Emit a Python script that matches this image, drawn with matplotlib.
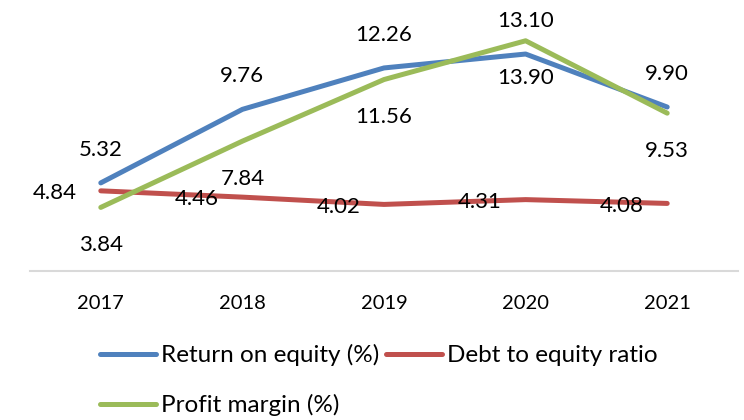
import numpy as np
import matplotlib
matplotlib.use("Agg")
import matplotlib.pyplot as plt

plt.rcParams['font.family'] = ['Lato', 'DejaVu Sans']

years = ['2017', '2018', '2019', '2020', '2021']
roe = [5.32, 9.76, 12.26, 13.10, 9.90]
debt_equity = [4.84, 4.46, 4.02, 4.31, 4.08]
profit_margin = [3.84, 7.84, 11.56, 13.90, 9.53]

blue = '#4f81bd'
red = '#c0504d'
green = '#9bbb59'

fig = plt.figure(figsize=(7.44, 4.2), dpi=100)
ax = fig.add_axes([30/744, 1-271/420, 708/744, 265/420])

x = np.arange(len(years))
l1, = ax.plot(x, roe, color=blue, lw=3.6, solid_capstyle='round', label='Return on equity (%)')
l2, = ax.plot(x, debt_equity, color=red, lw=3.6, solid_capstyle='round', label='Debt to equity ratio')
l3, = ax.plot(x, profit_margin, color=green, lw=3.6, solid_capstyle='round', label='Profit margin (%)')

# data labels (Excel style: above / below / left)
for i in range(len(x)):
    ax.annotate('%.2f' % roe[i], (x[i], roe[i]), xytext=(0, 24), textcoords='offset points',
                ha='center', va='center', fontsize=16)
    ax.annotate('%.2f' % profit_margin[i], (x[i], profit_margin[i]), xytext=(0, -27),
                textcoords='offset points', ha='center', va='center', fontsize=16)
    ax.annotate('%.2f' % debt_equity[i], (x[i], debt_equity[i]), xytext=(-17, -1.5),
                textcoords='offset points', ha='right', va='center', fontsize=16)

ax.set_xlim(-0.5, 4.5)
ax.set_ylim(0, 16)
ax.set_xticks(x)
ax.set_xticklabels(years, fontsize=14.5)
ax.tick_params(axis='x', length=0, pad=17)
ax.set_yticks([])
for s in ['top', 'right', 'left']:
    ax.spines[s].set_visible(False)
ax.spines['bottom'].set_color('#d9d9d9')
ax.spines['bottom'].set_linewidth(1.5)

fig.legend(handles=[l1, l3, l2], ncol=2, loc='upper left',
           bbox_to_anchor=(100/744, 1-344/420), frameon=False, fontsize=17.5,
           handlelength=2.3, handletextpad=0.2, columnspacing=0.3, labelspacing=1.15,
           borderpad=0, borderaxespad=0)

fig.savefig('out.png', dpi=100)
